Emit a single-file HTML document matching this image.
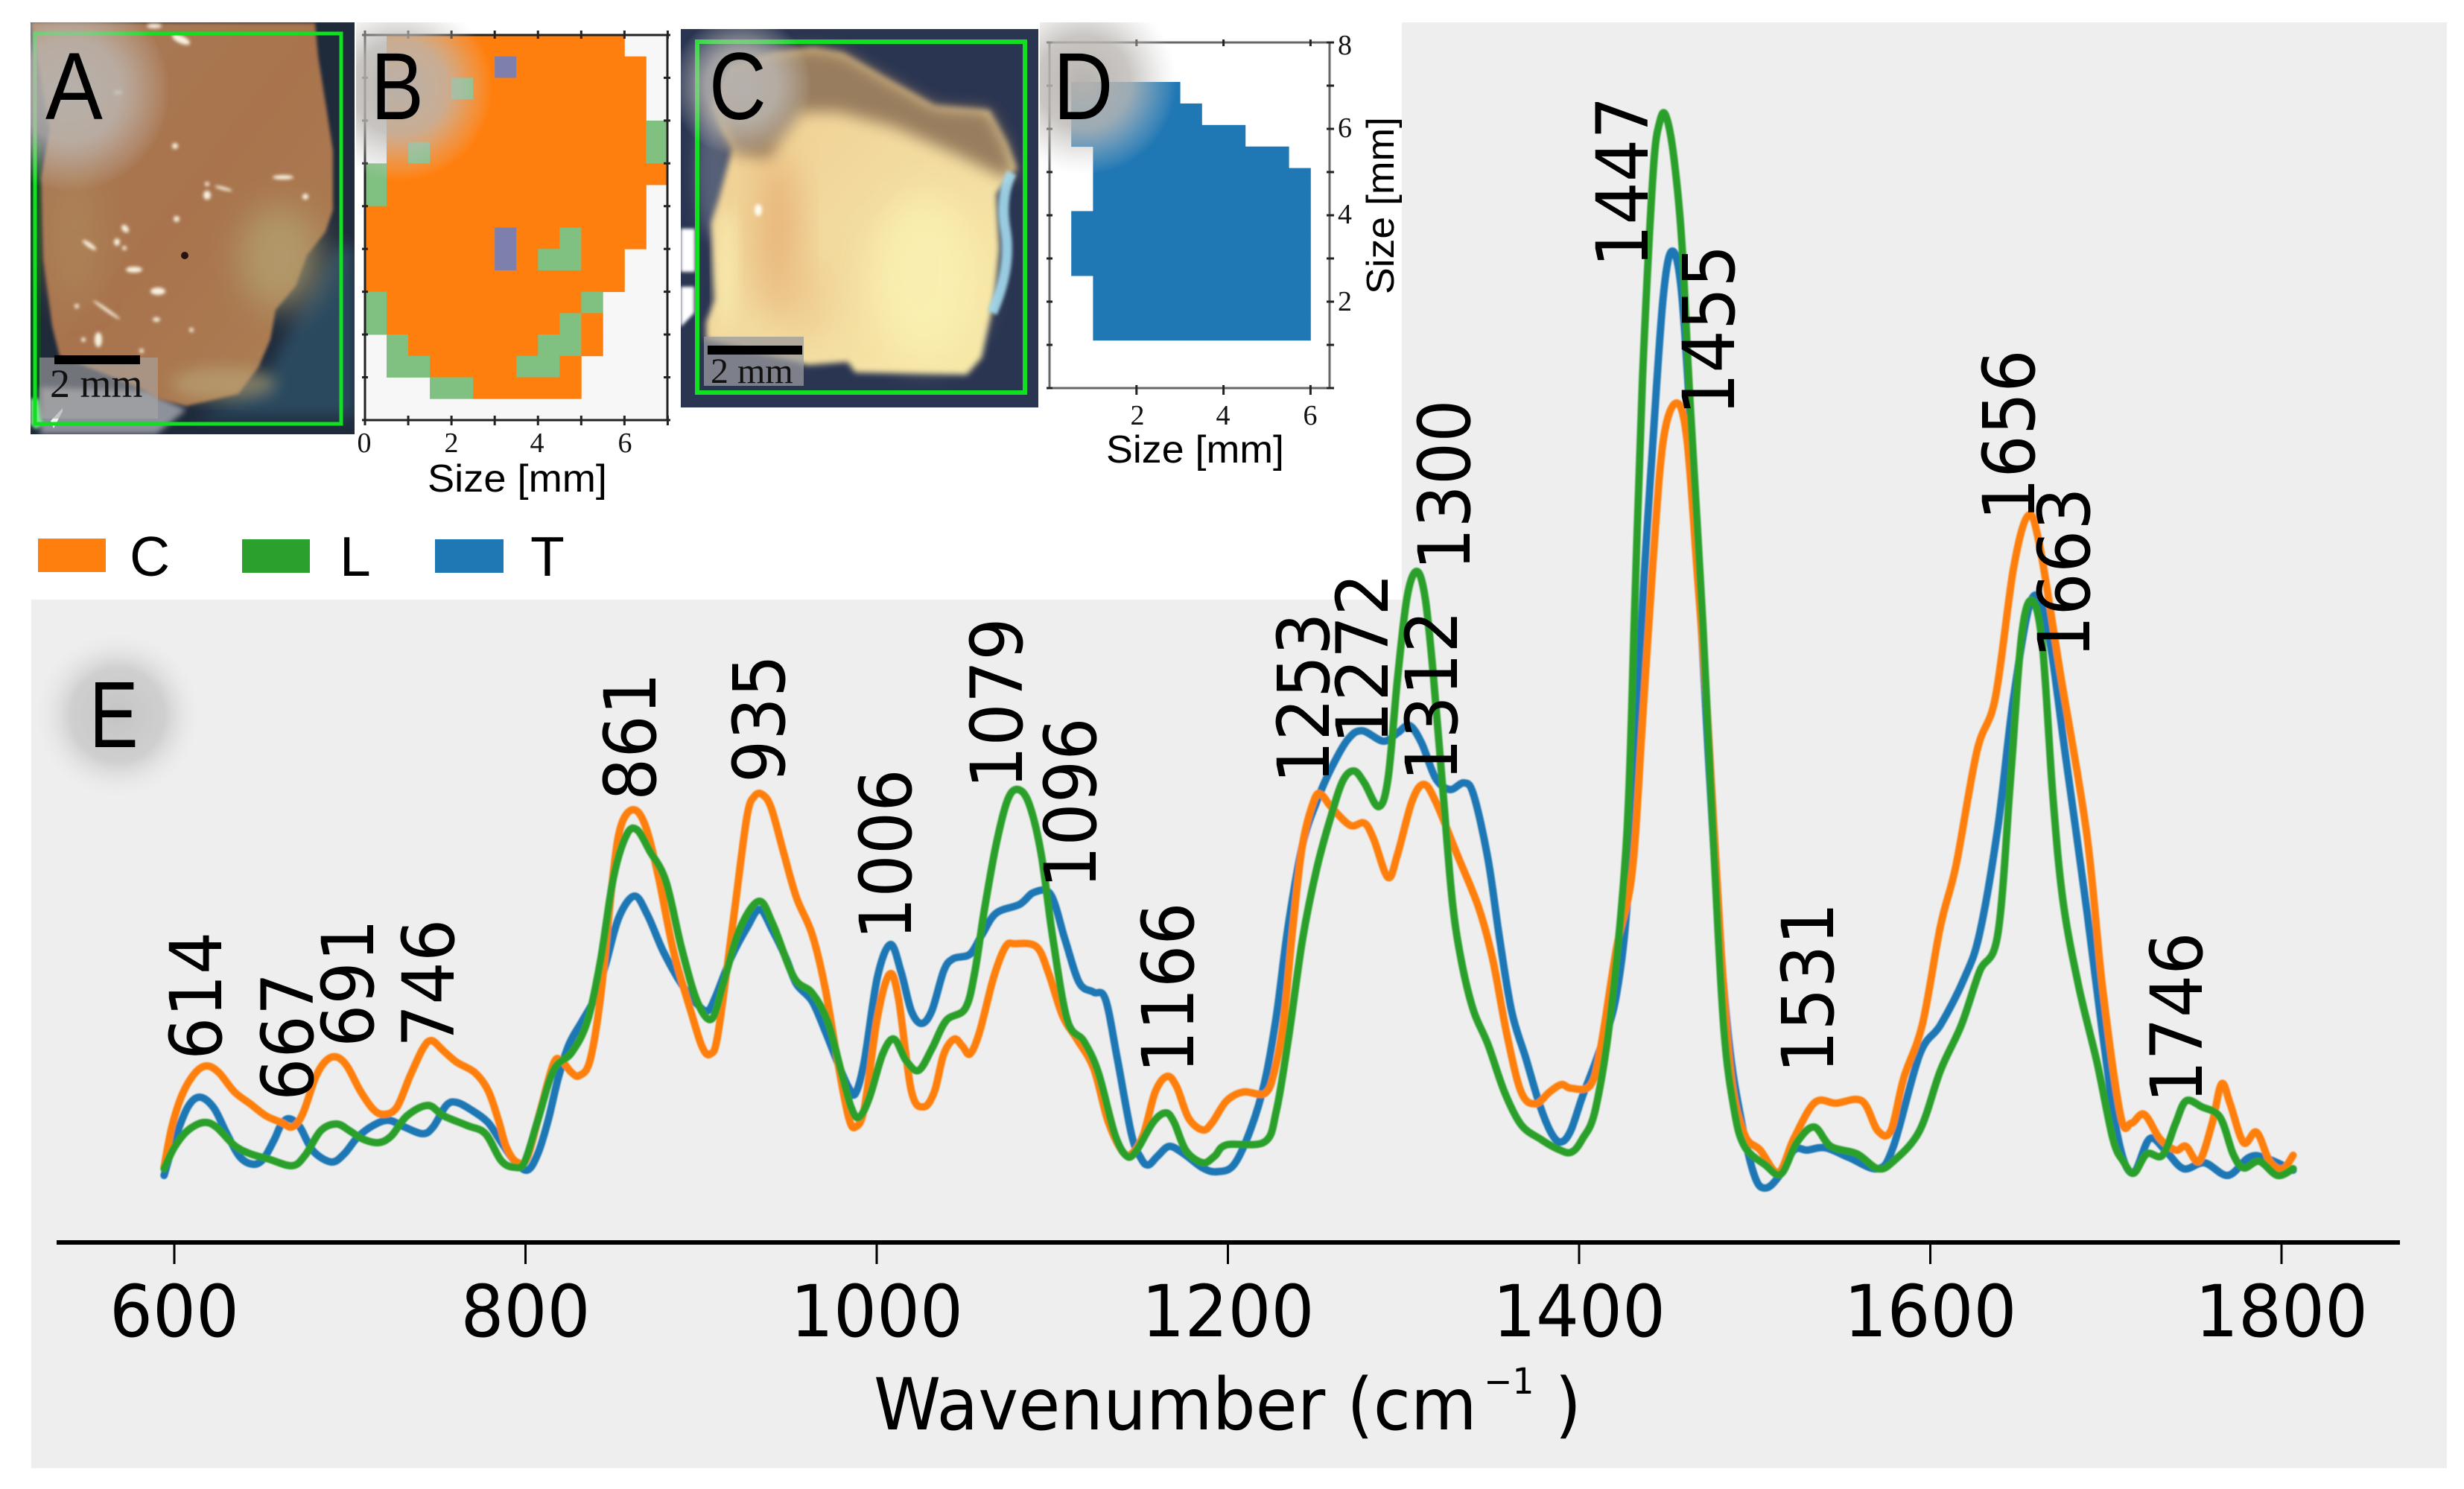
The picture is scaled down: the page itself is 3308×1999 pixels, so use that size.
<!DOCTYPE html>
<html lang="en">
<head>
<meta charset="utf-8">
<title>Raman spectra of tissue classes</title>
<style>
html,body{margin:0;padding:0;background:#fff;}
svg{display:block;}
.dv{font-family:"DejaVu Sans",sans-serif;fill:#000;}
.ls{font-family:"Liberation Sans",sans-serif;fill:#000;}
.se{font-family:"Liberation Serif",serif;fill:#111;}
.peak{font-size:96px;}
</style>
</head>
<body>
<svg id="figure" xmlns="http://www.w3.org/2000/svg" width="3308" height="1999" viewBox="0 0 3308 1999">
<defs>
<filter id="blur4" x="-20%" y="-20%" width="140%" height="140%"><feGaussianBlur stdDeviation="4"/></filter>
<filter id="blur10" x="-30%" y="-30%" width="160%" height="160%"><feGaussianBlur stdDeviation="10"/></filter>
<filter id="blur22" x="-40%" y="-40%" width="180%" height="180%"><feGaussianBlur stdDeviation="22"/></filter>
<filter id="blur2" x="-50%" y="-50%" width="200%" height="200%"><feGaussianBlur stdDeviation="2"/></filter>
<filter id="blur1" x="-5%" y="-5%" width="110%" height="110%"><feGaussianBlur stdDeviation="0.9"/></filter>
<radialGradient id="glow"><stop offset="0" stop-color="#b6b2ae" stop-opacity=".97"/><stop offset=".5" stop-color="#bcb8b4" stop-opacity=".8"/><stop offset=".8" stop-color="#c8c6c4" stop-opacity=".3"/><stop offset="1" stop-color="#d8d8d8" stop-opacity="0"/></radialGradient>
<radialGradient id="glowE"><stop offset="0" stop-color="#c4c4c4" stop-opacity="1"/><stop offset=".55" stop-color="#cccccc" stop-opacity=".9"/><stop offset="1" stop-color="#eeeeee" stop-opacity="0"/></radialGradient>
<linearGradient id="tissueA" x1="0" y1="0" x2="1" y2="1"><stop offset="0" stop-color="#a97c56"/><stop offset=".5" stop-color="#a8734e"/><stop offset="1" stop-color="#ae8054"/></linearGradient>
<linearGradient id="tissueC" x1="0" y1="0" x2="1" y2="1"><stop offset="0" stop-color="#eec98c"/><stop offset=".45" stop-color="#f2d99e"/><stop offset="1" stop-color="#f7eaa9"/></linearGradient>
<clipPath id="clipA"><rect x="41" y="30" width="435" height="553"/></clipPath>
<clipPath id="clipC"><rect x="914" y="39" width="480" height="508"/></clipPath>
<clipPath id="clipB"><rect x="478" y="30" width="430" height="560"/></clipPath>
<clipPath id="clipD"><rect x="1396" y="30" width="400" height="500"/></clipPath>
</defs>

<polygon points="1882,30 3285,30 3285,1971 42,1971 42,805 1882,805" fill="#eeeeee"/>

<g clip-path="url(#clipA)">
<rect x="41" y="30" width="435" height="553" fill="#1f2a3b"/>
<rect x="41" y="190" width="14" height="360" fill="#0b4a1e"/>
<polygon points="260,560 350,520 410,400 450,330 476,330 476,560" fill="#2c495f" filter="url(#blur10)"/>
<polygon points="54,520 200,525 250,550 210,583 54,583" fill="#8d919b" filter="url(#blur4)"/>
<polygon points="41,30 423,31 427,75 438,144 447,202 447,282 437,311 412,343 397,384 370,416 363,456 347,493 320,529 250,545 213,536 190,522 80,478 70,438 58,347 55,238 67,173 52,90" fill="url(#tissueA)" filter="url(#blur2)"/>
<ellipse cx="375" cy="345" rx="55" ry="70" fill="#b3a372" opacity=".75" filter="url(#blur22)"/>
<ellipse cx="100" cy="320" rx="35" ry="90" fill="#b08a5c" opacity=".6" filter="url(#blur22)"/>
<ellipse cx="300" cy="515" rx="70" ry="22" fill="#b9a87a" opacity=".6" filter="url(#blur10)"/>
<g fill="#f8f2e0" filter="url(#blur2)">
<ellipse cx="243" cy="53" rx="13" ry="5" transform="rotate(25 243 53)"/><ellipse cx="207" cy="35" rx="10" ry="3"/><ellipse cx="158" cy="124" rx="6" ry="3"/><ellipse cx="235" cy="196" rx="4" ry="4"/><ellipse cx="278" cy="262" rx="5" ry="6"/><ellipse cx="278" cy="247" rx="3" ry="3"/><ellipse cx="300" cy="253" rx="12" ry="2" transform="rotate(15 300 253)"/><ellipse cx="380" cy="238" rx="14" ry="3"/><ellipse cx="410" cy="264" rx="4" ry="4"/><ellipse cx="237" cy="294" rx="4" ry="4"/><ellipse cx="168" cy="307" rx="6" ry="4" transform="rotate(50 168 307)"/><ellipse cx="120" cy="329" rx="11" ry="3" transform="rotate(35 120 329)"/><ellipse cx="157" cy="325" rx="4" ry="5"/><ellipse cx="167" cy="333" rx="3" ry="3"/><ellipse cx="180" cy="362" rx="11" ry="4"/><ellipse cx="212" cy="391" rx="10" ry="5"/><ellipse cx="210" cy="429" rx="5" ry="3"/><ellipse cx="132" cy="456" rx="5" ry="10"/><ellipse cx="103" cy="411" rx="3" ry="3"/><ellipse cx="143" cy="416" rx="22" ry="2" transform="rotate(35 143 416)"/><ellipse cx="257" cy="443" rx="3" ry="3"/><ellipse cx="190" cy="471" rx="3" ry="3"/><ellipse cx="112" cy="456" rx="3" ry="3"/>
</g>
<ellipse cx="248" cy="343" rx="5" ry="5" fill="#2a1010"/>
<polygon points="41,535 52,535 58,570 48,576 41,570" fill="#7de48e" filter="url(#blur2)"/>
<polygon points="68,565 84,548 84,552 72,575" fill="#f2f6f0"/>
</g>
<rect x="47" y="45" width="411" height="524" fill="none" stroke="#10e020" stroke-width="5"/>
<rect x="53" y="480" width="159" height="82" fill="#a9a6a6" opacity=".6"/>
<rect x="73" y="477" width="115" height="12" fill="#000"/>
<text class="se" x="67" y="533" font-size="54">2 mm</text>

<g>
<rect x="490" y="47" width="406" height="517" fill="#f7f7f7"/>
<g id="cellsB"></g>
<g stroke="#222" fill="none">
<rect x="490" y="47" width="406" height="517" stroke-width="3"/>
<g id="ticksB"></g>
</g>
</g>
<g class="se" font-size="38" text-anchor="middle">
<text x="489" y="607">0</text>
<text x="606" y="607">2</text>
<text x="721" y="607">4</text>
<text x="839" y="607">6</text>
</g>
<text class="ls" x="574" y="660" font-size="52" textLength="241" lengthAdjust="spacingAndGlyphs">Size [mm]</text>

<g clip-path="url(#clipC)">
<rect x="914" y="39" width="480" height="508" fill="#2a3552"/>
<polygon points="914,307 933,307 933,365 914,365" fill="#ffffff" filter="url(#blur2)"/>
<polygon points="914,385 932,385 932,420 914,439" fill="#ffffff" filter="url(#blur2)"/>
<ellipse cx="960" cy="230" rx="26" ry="90" fill="#7a8396" opacity=".55" filter="url(#blur10)"/>
<polygon points="1038,71 1092,64 1132,71 1188,104 1255,142 1328,148 1352,192 1365,226 1338,260 1342,334 1335,402 1318,480 1298,503 1148,500 1138,486 1085,490 948,456 948,432 960,402 955,300 965,267 983,199 968,172 958,142 980,90" fill="url(#tissueC)" filter="url(#blur4)"/>
<polygon points="983,205 958,142 980,90 1038,71 1092,64 1132,71 1188,104 1255,142 1328,148 1352,192 1365,240 1340,235 1290,210 1200,170 1125,150 1075,150 1045,190 1035,215" fill="#94795c" opacity=".95" filter="url(#blur10)"/>
<ellipse cx="1045" cy="315" rx="30" ry="110" fill="#e5ac72" opacity=".75" filter="url(#blur22)"/>
<ellipse cx="1080" cy="400" rx="40" ry="60" fill="#edc48a" opacity=".5" filter="url(#blur22)"/>
<ellipse cx="1240" cy="370" rx="70" ry="110" fill="#fbf3b4" opacity=".75" filter="url(#blur22)"/>
<ellipse cx="975" cy="360" rx="14" ry="80" fill="#f9edb0" opacity=".7" filter="url(#blur10)"/>
<ellipse cx="1018" cy="282" rx="5" ry="8" fill="#fffdf0" filter="url(#blur2)"/>
<path d="M1358,232 Q1342,265 1350,310 Q1358,360 1332,420" fill="none" stroke="#a5dcf0" stroke-width="14" opacity=".9" filter="url(#blur2)"/>
</g>
<rect x="936" y="56" width="440" height="471" fill="none" stroke="#10e020" stroke-width="6"/>
<rect x="945" y="452" width="134" height="66" fill="#9a9a9e" opacity=".75"/>
<rect x="950" y="464" width="127" height="12" fill="#000"/>
<text class="se" x="954" y="514" font-size="48">2 mm</text>

<g>
<g id="cellsD"></g>
<rect x="1409" y="57" width="376" height="464" fill="none" stroke="#666" stroke-width="3"/>
<g id="ticksD" stroke="#222" fill="none"></g>
</g>
<g class="se" font-size="38" text-anchor="middle">
<text x="1527" y="570">2</text>
<text x="1642" y="570">4</text>
<text x="1759" y="570">6</text>
</g>
<g class="se" font-size="38">
<text x="1796" y="73">8</text>
<text x="1796" y="184">6</text>
<text x="1796" y="300">4</text>
<text x="1796" y="417">2</text>
</g>
<text class="ls" x="1485" y="621" font-size="52" textLength="239" lengthAdjust="spacingAndGlyphs">Size [mm]</text>
<text class="ls" transform="translate(1871,395) rotate(-90)" font-size="52" textLength="238" lengthAdjust="spacingAndGlyphs">Size [mm]</text>

<g>
<g clip-path="url(#clipA)"><circle cx="93" cy="122" r="135" fill="url(#glow)"/></g>
<g clip-path="url(#clipB)"><circle cx="536" cy="118" r="125" fill="url(#glow)"/></g>
<g clip-path="url(#clipC)"><circle cx="995" cy="115" r="95" fill="url(#glow)"/></g>
<g clip-path="url(#clipD)"><circle cx="1455" cy="110" r="125" fill="url(#glow)"/></g>
<circle cx="158" cy="960" r="115" fill="url(#glowE)"/>
</g>
<g class="ls" font-size="128">
<text transform="translate(61,160) scale(.9,1)">A</text>
<text transform="translate(498,160) scale(.83,1)">B</text>
<text transform="translate(952,160) scale(.83,1)">C</text>
<text transform="translate(1414,160) scale(.87,1)">D</text>
<text transform="translate(120,1003) scale(.78,1)" font-size="126">E</text>
</g>

<g>
<g>
<rect x="51" y="723" width="91" height="45" fill="#ff7f0e"/>
<text class="ls" x="174" y="773" font-size="75">C</text>
</g>
<g>
<rect x="325" y="724" width="91" height="45" fill="#2ca02c"/>
<text class="ls" x="456" y="773" font-size="75">L</text>
</g>
<g>
<rect x="584" y="724" width="92" height="45" fill="#1f77b4"/>
<text class="ls" x="712" y="773" font-size="75">T</text>
</g>
</g>

<g id="series" fill="none" stroke-width="10" stroke-linejoin="round" stroke-linecap="round" filter="url(#blur1)"></g>

<g>
<rect x="76" y="1665" width="3146" height="6" fill="#000"/>
<g id="xticks"></g>
</g>
<text class="dv" transform="translate(1173,1919) scale(.95,1)" font-size="96">Wavenumber (cm<tspan dy="-48" dx="10" font-size="48">−1</tspan><tspan dy="48" dx="-1"> )</tspan></text>

<g class="dv">
<text class="peak" transform="translate(297,1423) rotate(-90) scale(.94,1)">614</text>
<text class="peak" transform="translate(420,1478) rotate(-90) scale(.94,1)">667</text>
<text class="peak" transform="translate(501,1406) rotate(-90) scale(.94,1)">691</text>
<text class="peak" transform="translate(609,1406) rotate(-90) scale(.94,1)">746</text>
<text class="peak" transform="translate(880,1075) rotate(-90) scale(.94,1)">861</text>
<text class="peak" transform="translate(1053,1051) rotate(-90) scale(.94,1)">935</text>
<text class="peak" transform="translate(1223,1262) rotate(-90) scale(.94,1)">1006</text>
<text class="peak" transform="translate(1372,1059) rotate(-90) scale(.94,1)">1079</text>
<text class="peak" transform="translate(1471,1193) rotate(-90) scale(.94,1)">1096</text>
<text class="peak" transform="translate(1602,1441) rotate(-90) scale(.94,1)">1166</text>
<text class="peak" transform="translate(1784,1052) rotate(-90) scale(.94,1)">1253</text>
<text class="peak" transform="translate(1863,999) rotate(-90) scale(.94,1)">1272</text>
<text class="peak" transform="translate(1956,1049) rotate(-90) scale(.94,1)">1312</text>
<text class="peak" transform="translate(1973,766) rotate(-90) scale(.94,1)">1300</text>
<text class="peak" transform="translate(2212,359) rotate(-90) scale(.94,1)">1447</text>
<text class="peak" transform="translate(2328,558) rotate(-90) scale(.94,1)">1455</text>
<text class="peak" transform="translate(2461,1441) rotate(-90) scale(.94,1)">1531</text>
<text class="peak" transform="translate(2731,699) rotate(-90) scale(.94,1)">1656</text>
<text class="peak" transform="translate(2805,884) rotate(-90) scale(.94,1)">1663</text>
<text class="peak" transform="translate(2956,1481) rotate(-90) scale(.94,1)">1746</text>
</g>
</svg>

<script>
// ---- spectrum data (wavenumber in cm-1, intensity in arbitrary units) ----
const xTickValues = [600, 800, 1000, 1200, 1400, 1600, 1800];

const blueWavenumbers = [594.2,600.1,607.5,614.4,622.4,629.9,637.3,644.8,650.7,656.7,661.1,665.6,671.5,679,689.4,696.8,704.3,713.2,722.1,731,741.5,747.4,754.9,760.8,769.7,778.7,786.1,793.5,801,807,812.9,818.8,824.8,832.2,839.7,845.6,853.1,862,869.4,878.4,888.8,897.7,903.7,908.1,917,926,933.4,940.9,948.3,954.3,963.2,970.6,978,984,987.9,993,1000.4,1007.8,1013.8,1019.7,1025.5,1031.4,1038.2,1043.6,1053.1,1059.9,1068,1081.5,1089.6,1099.1,1107.2,1115.3,1123.5,1130.2,1137,1145.1,1150.5,1154.6,1160,1166.7,1174.9,1185.7,1193.8,1203.3,1212.8,1220.9,1227.6,1234.4,1242.5,1250.6,1258.7,1268.2,1276.3,1288.5,1296.6,1303.4,1310.2,1318.3,1326.4,1334.5,1339.9,1348.1,1354.8,1361.6,1369.7,1377.8,1384.6,1390,1395.4,1401.9,1410.8,1421.3,1428.7,1436.1,1442.1,1448,1453.1,1458.5,1464.4,1470.4,1477.8,1485.2,1492.7,1500.1,1506.1,1513.5,1522.4,1529.9,1540.3,1553.7,1570.1,1579,1593.9,1605.8,1619.2,1628.1,1638.5,1647.4,1657.8,1666.8,1677.2,1689.1,1698,1707,1715.3,1724.8,1733.7,1744.2,1756.1,1769.5,1781.4,1790.3,1806.6];
const blueIntensity = [9,13.7,18.1,19.5,18.1,14.6,11.5,10.5,11.2,13.7,15.9,16.6,15.5,12.3,10.8,11.9,14.1,15.7,16.4,15.5,14.6,15.5,18.4,18.8,17.7,16.1,13.5,11,9.7,11.9,16.4,22.2,26.6,29.7,32.9,37.3,43.6,46.5,44,39.1,34.7,32,31.1,32.9,38.2,42.2,44.7,41.8,38.2,34.7,32.4,28.4,24,20.8,20,24.4,35.6,40,36.4,31.1,29.4,31.1,36.5,38.1,38.7,41.3,44.2,45.4,47,46.7,40.7,34.9,33.6,32.7,24.7,14.5,11.3,10.4,11.6,12.9,11.9,10,9.5,10.4,15.1,21.5,30.4,42.6,53.4,59.2,63.6,67.5,68.7,67.3,68.4,69.4,67.1,62.3,60.8,61.7,60.1,51.5,40.7,31,24.7,18.3,14.5,13.5,15.1,19.6,25.2,33.3,49.7,85.4,107.8,127.2,133.1,127.2,105.8,79.2,48.6,27.2,16,8.8,7.3,8.8,12.4,12.4,12.7,11.4,9.9,12.9,25.2,29.2,35.4,41.5,55.8,73.1,86.4,82.3,65,44.6,28.2,13.9,9.3,13.9,12.4,9.9,10.7,9,11.4,11.4,9.7];

const orangeWavenumbers = [594.2,598.6,604.6,612,618.6,625.4,634.3,643.3,652.2,661.1,667.1,673,680.5,686.4,692.4,698.3,705.8,713.2,719.2,726.6,734,741.5,746.5,753.4,760.8,771.2,778.7,784.6,789.1,795,801,808.4,815.9,820.3,826.3,830.7,836.7,842.7,850.1,854.6,861.4,868,875.4,884.3,894.7,900.7,905.2,909.6,918.5,926,930.4,935.1,940,946.8,954.3,963.2,970.6,978,984,987.9,993,1000.4,1007.2,1012.3,1019.7,1026.6,1032.8,1038.2,1044.2,1049,1053.1,1058.5,1066.6,1073.4,1078.8,1091,1097.8,1105.9,1114,1123.5,1131.6,1139.7,1145.1,1151.9,1158.6,1165.4,1170.8,1177.6,1185.7,1191.1,1199.2,1208.7,1220.9,1226.3,1231.7,1237.1,1242.5,1249.3,1253.3,1258.7,1269.6,1277.7,1283.1,1291.2,1296.6,1304.8,1311.5,1318.3,1330.5,1342.6,1350.7,1358.9,1367,1375.1,1383.2,1390,1395.4,1406.4,1412.3,1421.3,1430.2,1436.1,1442.1,1448,1455.5,1461.4,1467.4,1473.3,1480.8,1486.7,1494.2,1503.1,1513.5,1522.4,1534.3,1546.3,1561.1,1570.1,1577.5,1584.9,1595.4,1605.8,1614.7,1626.6,1637,1647.4,1655.8,1662.3,1674.2,1689.1,1698,1708.4,1714.4,1721.8,1730.8,1739.7,1745.6,1753.1,1760.5,1765.9,1770.9,1778.4,1785.8,1793.3,1800.7,1806.6];
const orangeIntensity = [10.1,15.5,19.9,22.8,23.7,22.8,20.2,18.6,17,16.1,15.5,17.2,22.2,24.4,24.9,23.7,20.4,17.9,17.2,18.1,22.2,26,27.1,25.7,24.2,22.8,20.4,16.4,12.8,10.8,11.4,17.7,24,24.4,22.8,22.4,24.4,32.9,49.8,56.1,58.1,56.1,49.4,39.1,30.6,26.2,25.3,28,43.6,57,59.9,60.1,58.3,52.5,46.3,41.4,34.2,24,16.8,15.5,18.1,30.2,36,32.9,20.4,18.2,20.2,25.3,27.3,26.3,25.3,28.2,35.6,39.7,40.1,39.7,36.2,30.4,27.3,23.4,16.4,12.3,11.9,14.5,20.2,22.3,20.9,16.7,15.1,16.1,19,20.2,20,22.8,29.8,42.6,53.4,59.5,60.1,58.5,56,56.3,54.1,49,52.1,59.2,61.5,59.2,52.1,45.1,38.1,27.9,20.2,18.6,20.2,21.2,20.7,21.1,26.2,39.5,49.7,70,91.5,107.8,112.7,107.8,89.5,70,39.5,22.1,14.5,12.4,9.4,14,18.8,18.7,19,15,15,22.1,29.2,42.5,50.7,66,73.1,90.5,97.6,93.5,76.2,54.8,34.4,17,16,17.2,13.9,12.4,12.9,10.9,16,21.3,18.5,13.4,14.8,10.9,9.9,11.7];

const greenWavenumbers = [594.2,600.1,607.5,616.5,623.9,634.3,643.3,653.7,667.1,674.5,683.4,692.4,699.8,707.2,716.2,723.6,732.5,744.4,753.4,766.8,777.2,786.1,793.5,799.5,807,815.9,826.3,835.2,842.7,850.1,857.5,863.5,870.9,879.9,888.8,897.7,906,912.6,921.5,932.8,940.9,952.8,963.2,972.1,979.6,985.5,990,995.9,1003.4,1009.9,1016.8,1023.9,1031.4,1039.6,1050.4,1055.8,1061.2,1068,1074.7,1080.7,1086.9,1093.7,1100.4,1108.6,1118,1126.2,1135.6,1142.4,1147.8,1157.3,1164.6,1169.4,1176.2,1185.7,1192.5,1199.2,1220.9,1227.6,1234.4,1242.5,1250.6,1258.7,1265.5,1271.8,1277.7,1285.8,1291.2,1296.6,1302,1307.5,1312.3,1316.9,1322.3,1327.8,1333.2,1339.9,1348.1,1357.5,1367,1377.8,1387.3,1395.4,1401.9,1409.4,1418.3,1427.2,1431.7,1436.1,1442.1,1446,1449.5,1454,1458.5,1462.9,1470.4,1476.3,1482.3,1488.2,1494.2,1506.1,1515,1523.9,1533.8,1543.3,1558.2,1570.1,1579,1593.9,1605.8,1617.7,1628.1,1638.5,1645.9,1651.9,1657.8,1663.8,1669.8,1675.7,1684.6,1695,1704,1709.9,1715.9,1723.3,1732.2,1739.7,1745.6,1754.6,1765,1772.4,1778.4,1787.3,1797.7,1806.6];
const greenIntensity = [9.9,12.8,15,16.1,15.5,13,11.9,11.2,10.3,11.7,15,15.9,15,13.9,13.4,14.3,17,18.4,17,15.7,14.6,11,10.1,10.8,16.4,23.1,25.5,29.7,37.8,49,54.7,55.4,52.5,48.5,39.6,32.4,30,34.7,41.8,45.8,42.7,35.6,33.5,29.7,23.1,18.1,16.8,19.5,25.3,27.3,24.4,23.1,26,29.8,31.4,36.2,44.5,53.4,59.5,60.8,58.8,52.1,40.7,29.8,27,22.8,14.5,11.6,12.3,16.1,17.4,16.1,12.3,10.7,11.6,13.1,13.5,17.7,27.3,40.7,50.2,57.2,62,63.3,61.7,58.5,62.3,75.7,86.6,90.1,86.6,76.4,61.1,45.8,37.5,31.1,26.6,20.2,15.8,13.9,12.6,12.1,13.9,18,31.3,54.8,85.4,116,143.5,150.5,151.2,145.6,134.3,114,83.3,54.8,29.2,18,12.9,10.4,9.2,13.4,15.5,12.9,11.9,9.9,10.9,15,23.1,29.2,36.4,41.5,62.9,81.3,86.2,80.3,59.9,45.6,34.3,24.1,13.9,10.9,9.3,11.9,11.7,16,19,18.2,16.8,11.9,10,10.9,9,9.9];

// ---- class-map data: one string per row, one character per 0.5 mm cell ----
// o = C, g = L, b = T, space = no measurement
const mapBRows = [
  " ooooooooooo  ",
  " oooooboooooo ",
  " ooogoooooooo ",
  " oooooooooooo ",
  " oooooooooooog",
  " ogoooooooooog",
  "gooooooooooooo",
  "goooooooooooo ",
  "ooooooooooooo ",
  "ooooooboogooo ",
  "ooooooboggoo  ",
  "oooooooooooo  ",
  "gooooooooog   ",
  "goooooooogo   ",
  " gooooooggo   ",
  " ggooooggo    ",
  "   ggooooo    "
];
const mapDRows = [
  " ooooo      ",
  " oooooo     ",
  " oooooooo   ",
  "  ooooooooo ",
  "  oooooooooo",
  "  oooooooooo",
  " ooooooooooo",
  " ooooooooooo",
  " ooooooooooo",
  "  oooooooooo",
  "  oooooooooo",
  "  oooooooooo"
];
const mapBColors = { o: "#ff7f0e", g: "#80c080", b: "#7f7fae" };
const mapDColors = { o: "#1f77b4" };

// ---- axis functions ----
function xScale(w) { return 234 + (w - 600) * 2.3575; }
function yScale(v) { return 1668 - v * 10; }
function xB(halfMm) { return 490 + halfMm * 29.03; }
function yB(halfMm) { return 47 + halfMm * 28.72; }
function xD(halfMm) { return 1409 + halfMm * 29.2; }
function yD(halfMm) { return 110 + halfMm * 28.9; }

const NS = "http://www.w3.org/2000/svg";

function smoothPath(xs, ys) {
  const p = xs.map(function (w, i) { return [xScale(w), yScale(ys[i])]; });
  let d = "M" + p[0][0].toFixed(1) + " " + p[0][1].toFixed(1);
  for (let i = 0; i < p.length - 1; i++) {
    const a = p[Math.max(i - 1, 0)], b = p[i], c = p[i + 1], e = p[Math.min(i + 2, p.length - 1)];
    const c1x = b[0] + (c[0] - a[0]) / 6, c1y = b[1] + (c[1] - a[1]) / 6;
    const c2x = c[0] - (e[0] - b[0]) / 6, c2y = c[1] - (e[1] - b[1]) / 6;
    d += "C" + c1x.toFixed(1) + " " + c1y.toFixed(1) + " " + c2x.toFixed(1) + " " + c2y.toFixed(1) + " " + c[0].toFixed(1) + " " + c[1].toFixed(1);
  }
  return d;
}

const seriesLayer = document.getElementById("series");

const blueLine = document.createElementNS(NS, "path");


blueLine.setAttribute("d", smoothPath(blueWavenumbers, blueIntensity));
blueLine.setAttribute("stroke", "#1f77b4");
seriesLayer.appendChild(blueLine);

const orangeLine = document.createElementNS(NS, "path");


orangeLine.setAttribute("d", smoothPath(orangeWavenumbers, orangeIntensity));
orangeLine.setAttribute("stroke", "#ff7f0e");
seriesLayer.appendChild(orangeLine);

const greenLine = document.createElementNS(NS, "path");


greenLine.setAttribute("d", smoothPath(greenWavenumbers, greenIntensity));
greenLine.setAttribute("stroke", "#2ca02c");
seriesLayer.appendChild(greenLine);

// x axis ticks and tick labels
const xTickLayer = document.getElementById("xticks");
xTickValues.forEach(function (t) {
  const tick = document.createElementNS(NS, "rect");
  
  
  tick.setAttribute("x", xScale(t) - 1.5);
  tick.setAttribute("y", 1668);
  tick.setAttribute("width", 3);
  tick.setAttribute("height", 29);
  tick.setAttribute("fill", "#000");
  xTickLayer.appendChild(tick);
  const label = document.createElementNS(NS, "text");
  
  
  label.setAttribute("class", "dv");
  label.setAttribute("font-size", "96");
  label.setAttribute("text-anchor", "middle");
  label.setAttribute("transform", "translate(" + xScale(t) + ",1794) scale(.95,1)");
  label.textContent = String(t);
  xTickLayer.appendChild(label);
});

// heatmap cells
function drawCells(layerId, rows, colors, xf, yf, cellName) {
  const layer = document.getElementById(layerId);
  rows.forEach(function (row, r) {
    for (let c = 0; c < row.length; c++) {
      const color = colors[row[c]];
      if (!color) continue;
      const cell = document.createElementNS(NS, "rect");
      
      
      cell.setAttribute("x", xf(c));
      cell.setAttribute("y", yf(r));
      cell.setAttribute("width", xf(c + 1) - xf(c) + 0.4);
      cell.setAttribute("height", yf(r + 1) - yf(r) + 0.4);
      cell.setAttribute("fill", color);
      layer.appendChild(cell);
    }
  });
}
drawCells("cellsB", mapBRows, mapBColors, xB, yB, "class-map-b-cell");
drawCells("cellsD", mapDRows, mapDColors, xD, yD, "class-map-d-cell");

// map tick marks
function tickLine(layer, x1, y1, x2, y2, name) {
  const l = document.createElementNS(NS, "line");
  
  
  l.setAttribute("x1", x1);
  l.setAttribute("y1", y1);
  l.setAttribute("x2", x2);
  l.setAttribute("y2", y2);
  l.setAttribute("stroke-width", "3");
  layer.appendChild(l);
}
const ticksB = document.getElementById("ticksB");
for (let m = 0; m <= 7; m++) {
  tickLine(ticksB, xB(m * 2), 41, xB(m * 2), 52, "b-top-tick");
  tickLine(ticksB, xB(m * 2), 558, xB(m * 2), 571, "b-bottom-tick");
}
for (let m = 0; m <= 9; m++) {
  tickLine(ticksB, 486, yB(m * 2), 494, yB(m * 2), "b-left-tick");
  tickLine(ticksB, 891, yB(m * 2), 900, yB(m * 2), "b-right-tick");
}
const ticksD = document.getElementById("ticksD");
[2, 4, 6].forEach(function (m) {
  tickLine(ticksD, xD(m * 2), 53, xD(m * 2), 62, "d-top-tick");
  tickLine(ticksD, xD(m * 2), 517, xD(m * 2), 530, "d-bottom-tick");
});
for (let m = 0; m <= 8; m++) {
  tickLine(ticksD, 1405, 521 - m * 58, 1413, 521 - m * 58, "d-left-tick");
  tickLine(ticksD, 1781, 521 - m * 58, 1791, 521 - m * 58, "d-right-tick");
}
</script>
</body>
</html>
